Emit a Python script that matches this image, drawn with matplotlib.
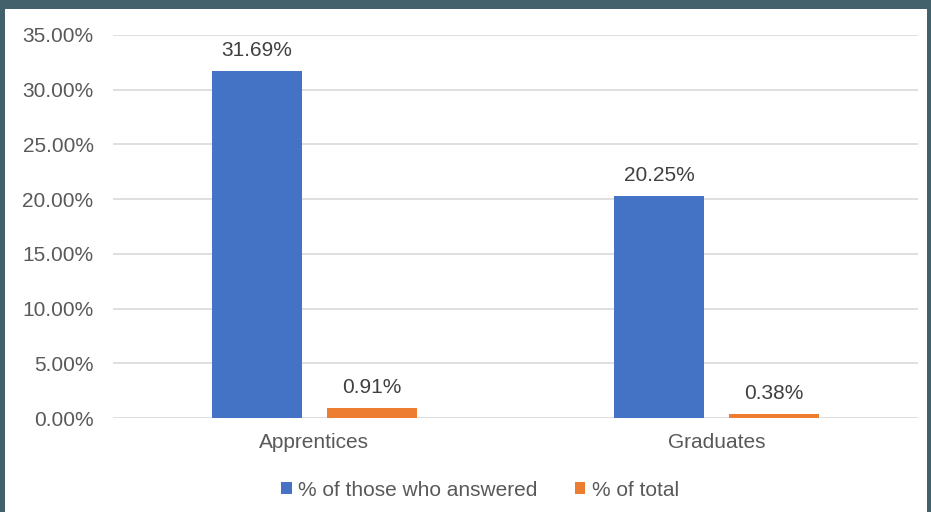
import numpy as np
import matplotlib.pyplot as plt
from matplotlib.patches import Rectangle

plt.rcParams['font.family'] = ['Liberation Sans', 'DejaVu Sans']

categories = ['Apprentices', 'Graduates']
answered = [31.69, 20.25]
total = [0.91, 0.38]
series_names = ['% of those who answered', '% of total']
yticks = [0, 5, 10, 15, 20, 25, 30, 35]

blue = '#4472c4'
orange = '#ed7d31'
text_col = '#595959'
fs = 15

fig = plt.figure(figsize=(9.31, 5.12), dpi=100)
fig.patch.set_facecolor('white')
# dark frame around the chart area
fig.patches.append(Rectangle((0, 0), 1, 1, transform=fig.transFigure,
                             facecolor='#43616b', edgecolor='none', zorder=-2))
fig.patches.append(Rectangle((5 / 931, 0), 922 / 931, 503 / 512,
                             transform=fig.transFigure,
                             facecolor='white', edgecolor='none', zorder=-1))

ax = fig.add_axes([113 / 931, (512 - 418) / 512, 805 / 931, 383 / 512])
ax.set_facecolor('none')

x = np.arange(len(categories))
w = 0.224
off = 0.143
b1 = ax.bar(x - off, answered, w, color=blue, label=series_names[0], zorder=3)
b2 = ax.bar(x + off, total, w, color=orange, label=series_names[1], zorder=3)

for bars, vals in ((b1, answered), (b2, total)):
    for rect, v in zip(bars, vals):
        ax.annotate(f'{v:.2f}%', (rect.get_x() + rect.get_width() / 2, v),
                    xytext=(0, 8), textcoords='offset points',
                    ha='center', va='bottom', fontsize=fs, color='#404040')

ax.set_xlim(-0.5, 1.5)
ax.set_ylim(0, 35)
ax.set_yticks(yticks)
ax.set_yticklabels([f'{t:.2f}%' for t in yticks])
ax.set_xticks(x)
ax.set_xticklabels(categories)
ax.yaxis.grid(True, color='#d9d9d9', linewidth=1.2, zorder=0)
ax.set_axisbelow(True)
for s in ax.spines.values():
    s.set_visible(False)
ax.tick_params(axis='y', length=0, pad=14, labelsize=fs, labelcolor=text_col)
ax.tick_params(axis='x', length=0, pad=11, labelsize=fs, labelcolor=text_col)

leg = fig.legend(loc='center', bbox_to_anchor=(480 / 931, 1 - 490 / 512), ncol=2,
                 frameon=False, fontsize=fs, handlelength=0.5, handleheight=0.5,
                 handletextpad=0.3, columnspacing=1.8)
for t in leg.get_texts():
    t.set_color(text_col)

fig.savefig('out.png', dpi=100)
